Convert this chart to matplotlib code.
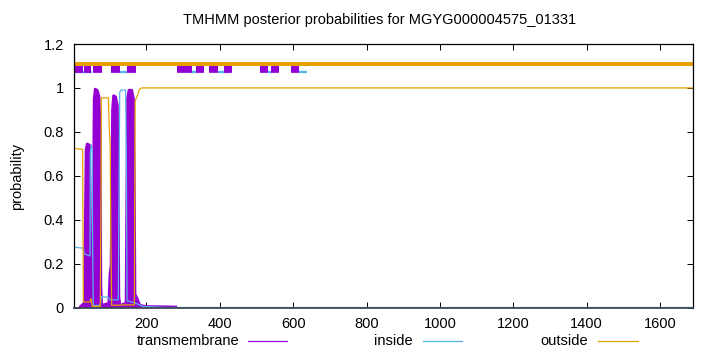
import numpy as np
import matplotlib
matplotlib.use('Agg')
import matplotlib.pyplot as plt
from matplotlib.lines import Line2D


# ============================== Data ============================== #
seq_len = 1690

# posterior probability for transmembrane
tm_pos = [1, 20, 30, 33, 35, 38, 45, 47, 48, 50, 53, 55, 57, 60, 66, 71, 74, 76, 78,
          97, 100, 103, 105, 107, 110, 116, 121, 123, 125, 128,
          144, 146, 148, 152, 160, 165, 167, 169, 175, 182, 200, 280, 300, 1690]
tm_prob = [0.0, 0.005, 0.02, 0.4, 0.72, 0.745, 0.74, 0.5, 0.05, 0.03, 0.05, 0.5, 0.95, 0.995, 0.99, 0.96, 0.8, 0.1, 0.01,
           0.02, 0.15, 0.19, 0.5, 0.9, 0.965, 0.96, 0.92, 0.6, 0.05, 0.01,
           0.02, 0.5, 0.95, 0.99, 0.99, 0.95, 0.6, 0.06, 0.04, 0.01, 0.005, 0.003, 0.0, 0.0]

# posterior probability for inside
in_pos = [1, 28, 30, 44, 46, 47, 49, 52, 53, 55, 74, 77, 97, 100, 123, 125, 127, 130,
          143, 145, 147, 170, 190, 250, 1690]
in_prob = [0.275, 0.27, 0.245, 0.235, 0.24, 0.7, 0.74, 0.72, 0.3, 0.01, 0.01, 0.05, 0.045, 0.035, 0.035, 0.5, 0.98, 0.99,
           0.99, 0.7, 0.03, 0.02, 0.005, 0.0, 0.0]

# posterior probability for outside
out_pos = [1, 26, 27, 28, 46, 48, 50, 52, 74, 76, 77, 96, 99, 101, 103, 105,
           145, 167, 168, 169, 174, 180, 186, 1690]
out_prob = [0.725, 0.72, 0.3, 0.025, 0.025, 0.04, 0.03, 0.005, 0.005, 0.5, 0.955, 0.955, 0.8, 0.74, 0.3, 0.01,
            0.012, 0.012, 0.5, 0.94, 0.96, 0.99, 1.0, 1.0]

# predicted segments shown above the curves
tm_seg_start = [1, 30, 54, 103, 147, 284, 335, 370, 411, 509, 539, 593]
tm_seg_end = [27, 48, 79, 128, 171, 324, 357, 396, 433, 531, 561, 615]
in_seg_start = [5, 128, 321, 395, 531, 613]
in_seg_end = [51, 147, 337, 427, 542, 637]
out_seg_start = [1]
out_seg_end = [1690]

legend_labels = ['transmembrane', 'inside', 'outside']

x_ticks = [200, 400, 600, 800, 1000, 1200, 1400, 1600]
y_ticks = [0, 0.2, 0.4, 0.6, 0.8, 1.0, 1.2]
y_tick_labels = ['0', '0.2', '0.4', '0.6', '0.8', '1', '1.2']

title = 'TMHMM posterior probabilities for MGYG000004575_01331'

TM_COLOR = '#9400D3'
IN_COLOR = '#56B4E9'
OUT_COLOR = '#E69F00'


# ============================== Plot ============================== #
def make_plot():
    plt.rcParams['font.family'] = ['Liberation Sans', 'DejaVu Sans']
    fs = 10.5

    fig = plt.figure(figsize=(7.2, 3.52), dpi=100)
    W, H = 720, 352
    ax = fig.add_axes([73.5 / W, 1 - 307.5 / H, 619.5 / W, 263.5 / H])

    # transmembrane drawn like gnuplot impulses -> filled area plus outline
    tm = np.ma.masked_equal(np.array(tm_prob), 0.0)
    ax.fill_between(tm_pos, 0, tm_prob, color=TM_COLOR, lw=0)
    ax.plot(tm_pos, tm, color=TM_COLOR, lw=1.8)
    ax.plot(in_pos, in_prob, color=IN_COLOR, lw=0.9)
    ax.plot(out_pos, out_prob, color=OUT_COLOR, lw=0.9)

    # segment bars at the top
    ax.hlines([1.074] * len(in_seg_start), in_seg_start, in_seg_end,
              color=IN_COLOR, lw=1.7, capstyle='butt')
    ax.hlines([1.092] * len(tm_seg_start), tm_seg_start, tm_seg_end,
              color=TM_COLOR, lw=7.0, capstyle='butt')
    ax.hlines([1.111] * len(out_seg_start), out_seg_start, out_seg_end,
              color=OUT_COLOR, lw=2.9, capstyle='butt')

    ax.set_xlim(1, seq_len)
    ax.set_ylim(0, 1.2)
    ax.set_xticks(x_ticks)
    ax.set_xticklabels([str(t) for t in x_ticks], fontsize=fs)
    ax.set_yticks(y_ticks)
    ax.set_yticklabels(y_tick_labels, fontsize=fs)
    ax.tick_params(direction='in', top=True, right=True, length=4, width=0.7, pad=7)
    for sp in ax.spines.values():
        sp.set_linewidth(0.9)
        sp.set_color('black')
    ax.spines['bottom'].set_color('#3d4a55')
    ax.spines['bottom'].set_linewidth(1.3)

    fig.text(380 / W, 1 - 20 / H, title, ha='center', va='center', fontsize=fs)
    fig.text(17 / W, 1 - 176 / H, 'probability', rotation=90, ha='center', va='center', fontsize=fs)

    # legend row under the axis, gnuplot style (text then sample line)
    colors = [TM_COLOR, IN_COLOR, OUT_COLOR]
    text_right = [239, 413, 588]
    line_x = [(248, 287), (423, 462), (598, 638)]
    y_leg = 1 - 341 / H
    for label, c, tr, (x0, x1) in zip(legend_labels, colors, text_right, line_x):
        fig.text(tr / W, y_leg, label, ha='right', va='center', fontsize=fs)
        fig.add_artist(Line2D([x0 / W, x1 / W], [y_leg, y_leg], color=c, lw=0.9,
                              transform=fig.transFigure))

    fig.savefig('out.png', dpi=100)


if __name__ == '__main__':
    make_plot()
